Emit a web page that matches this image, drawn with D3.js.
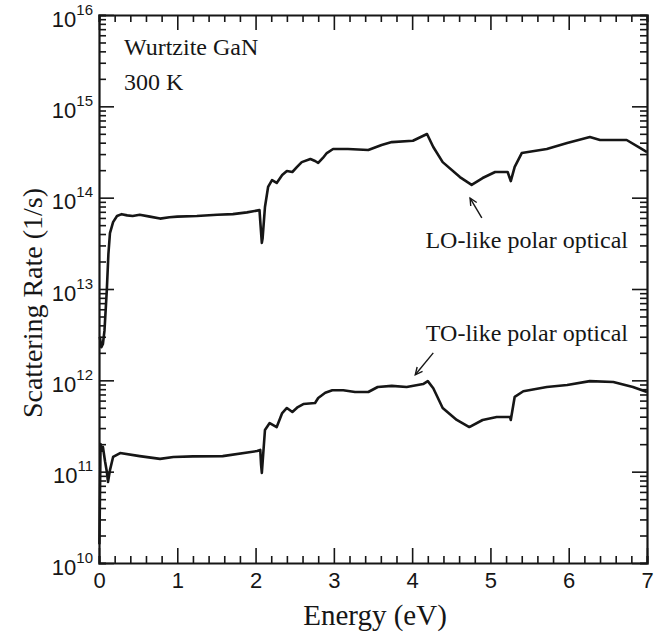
<!DOCTYPE html>
<html>
<head>
  <meta charset="UTF-8">
  <title>Scattering rate</title>
  <script src="https://d3js.org/d3.v7.min.js"></script>
  <style>
    body { margin: 0; background: #fff; }
    svg { font-family: "Liberation Serif", "DejaVu Serif", serif; }
    .curve { fill: none; stroke: #161616; stroke-width: 2.6; stroke-linejoin: round; }
    .axis path, .axis line { stroke: #161616; }
    .axis path { stroke-width: 2.2; }
    .axis line { stroke-width: 1.6; }
  </style>
</head>
<body>
<div class="chart"></div>
<script>
  // LO-like polar optical
  var loEnergy = [0.01, 0.03, 0.05, 0.07, 0.10, 0.12, 0.14, 0.18, 0.23, 0.29, 0.36, 0.43, 0.52, 0.65, 0.78, 0.90,
    1.00, 1.25, 1.51, 1.71, 1.89, 2.05, 2.06, 2.08, 2.09, 2.12, 2.16, 2.21, 2.27, 2.34, 2.40, 2.47, 2.53, 2.59,
    2.70, 2.76, 2.80, 2.86, 2.91, 2.99, 3.18, 3.44, 3.61, 3.74, 4.01, 4.19, 4.27, 4.39, 4.61, 4.76, 4.90, 5.06,
    5.22, 5.26, 5.31, 5.40, 5.72, 5.98, 6.27, 6.40, 6.74, 6.91, 7.00];
  var loRate = [3.0e12, 2.3e12, 2.5e12, 3.5e12, 9.8e12, 2.4e13, 4.1e13, 5.4e13, 6.3e13, 6.6e13, 6.4e13, 6.3e13, 6.5e13,
    6.2e13, 5.9e13, 6.1e13, 6.2e13, 6.3e13, 6.5e13, 6.6e13, 6.9e13, 7.3e13, 5.5e13, 3.2e13, 3.6e13, 7.9e13, 1.31e14,
    1.56e14, 1.45e14, 1.77e14, 1.96e14, 1.91e14, 2.17e14, 2.45e14, 2.65e14, 2.52e14, 2.40e14, 2.72e14, 3.08e14,
    3.41e14, 3.41e14, 3.33e14, 3.78e14, 4.06e14, 4.2e14, 4.98e14, 3.59e14, 2.45e14, 1.68e14, 1.38e14, 1.64e14,
    1.91e14, 1.91e14, 1.52e14, 2.17e14, 3.08e14, 3.41e14, 3.96e14, 4.61e14, 4.28e14, 4.28e14, 3.50e14, 3.16e14];

  // TO-like polar optical
  var toEnergy = [0.005, 0.02, 0.04, 0.05, 0.077, 0.10, 0.115, 0.14, 0.18, 0.27, 0.52, 0.78, 0.95, 1.20, 1.58, 2.02,
    2.06, 2.07, 2.08, 2.12, 2.18, 2.27, 2.34, 2.40, 2.47, 2.54, 2.61, 2.76, 2.80, 2.89, 2.98, 3.12, 3.27, 3.44,
    3.56, 3.74, 3.93, 4.14, 4.20, 4.27, 4.39, 4.57, 4.73, 4.90, 5.08, 5.25, 5.26, 5.31, 5.42, 5.72, 5.98, 6.27,
    6.57, 6.82, 7.00];
  var toRate = [1.6e10, 2.0e11, 1.7e11, 1.86e11, 1.3e11, 1.0e11, 7.7e10, 1.04e11, 1.45e11, 1.60e11, 1.48e11, 1.38e11,
    1.45e11, 1.47e11, 1.48e11, 1.68e11, 1.73e11, 1.2e11, 9.7e10, 2.86e11, 3.41e11, 3.08e11, 4.38e11, 4.98e11,
    4.50e11, 5.1e11, 5.5e11, 5.65e11, 6.4e11, 7.3e11, 7.8e11, 7.8e11, 7.45e11, 7.45e11, 8.45e11, 8.7e11, 8.45e11,
    9.1e11, 9.8e11, 8.2e11, 4.98e11, 3.68e11, 3.08e11, 3.68e11, 3.97e11, 3.97e11, 3.68e11, 6.6e11, 7.6e11,
    8.45e11, 8.9e11, 9.8e11, 9.6e11, 8.45e11, 7.45e11];

  var xTicks = [0, 1, 2, 3, 4, 5, 6, 7];
  var yExponents = [10, 11, 12, 13, 14, 15, 16];

  var margin = { top: 15, right: 19, bottom: 72, left: 99 };
  var width = 666 - margin.left - margin.right;
  var height = 635 - margin.top - margin.bottom;

  var svg = d3.select('.chart')
    .append('svg')
      .attr('width', 666)
      .attr('height', 635)
    .append('g')
      .attr('transform', 'translate(' + margin.left + ',' + margin.top + ')');

  var xScale = d3.scaleLinear().domain([0, 7]).range([0, width]);
  var yScale = d3.scaleLog().domain([1e10, 1e16]).range([height, 0]);

  // minor tick values
  var xMinor = d3.range(0, 7.001, 0.2).filter(v => Math.abs(v - Math.round(v)) > 0.01);
  var yMinor = [];
  yExponents.slice(0, -1).forEach(function (e) {
    for (var m = 2; m <= 9; m++) yMinor.push(m * Math.pow(10, e));
  });
  var yMajor = yExponents.map(e => Math.pow(10, e));

  // X axes (ticks inward)
  svg.append('g').attr('class', 'axis').attr('transform', `translate(0, ${height})`)
    .call(d3.axisBottom(xScale).tickValues(xMinor).tickSize(-7).tickFormat(''));
  var xb = svg.append('g').attr('class', 'axis').attr('transform', `translate(0, ${height})`)
    .call(d3.axisBottom(xScale).tickValues(xTicks).tickSize(-15).tickPadding(0).tickFormat(d3.format('d')));
  xb.selectAll('text').attr('y', 25).attr('dy', 0).attr('fill', '#161616').style('font-size', '22px');
  xb.select('.domain').remove();

  svg.append('g').attr('class', 'axis')
    .call(d3.axisTop(xScale).tickValues(xMinor).tickSize(-7).tickFormat(''));
  var xt = svg.append('g').attr('class', 'axis')
    .call(d3.axisTop(xScale).tickValues(xTicks).tickSize(-15).tickFormat(''));
  xt.select('.domain').remove();

  // Y axes
  svg.append('g').attr('class', 'axis')
    .call(d3.axisLeft(yScale).tickValues(yMinor).tickSize(-7).tickFormat(''));
  var yl = svg.append('g').attr('class', 'axis')
    .call(d3.axisLeft(yScale).tickValues(yMajor).tickSize(-15).tickFormat(''));
  yl.select('.domain').remove();
  var lab = yl.selectAll('.tick').append('text')
    .attr('x', -6).attr('y', 11)
    .attr('text-anchor', 'end')
    .attr('fill', '#161616')
    .style('font-size', '22px');
  lab.append('tspan').text('10');
  lab.append('tspan').attr('dy', -12).style('font-size', '15px')
    .text(d => Math.round(Math.log10(d)));

  svg.append('g').attr('class', 'axis').attr('transform', `translate(${width}, 0)`)
    .call(d3.axisRight(yScale).tickValues(yMinor).tickSize(-7).tickFormat(''));
  var yr = svg.append('g').attr('class', 'axis').attr('transform', `translate(${width}, 0)`)
    .call(d3.axisRight(yScale).tickValues(yMajor).tickSize(-15).tickFormat(''));
  yr.select('.domain').remove();

  // curves
  var line = d3.line()
    .x(d => xScale(d[0]))
    .y(d => yScale(d[1]));

  svg.append('path').attr('class', 'curve')
    .datum(d3.zip(loEnergy, loRate))
    .attr('d', line);
  svg.append('path').attr('class', 'curve')
    .datum(d3.zip(toEnergy, toRate))
    .attr('d', line);

  // axis titles
  svg.append('text')
    .attr('x', width / 2 + 2).attr('y', height + 62)
    .attr('text-anchor', 'middle')
    .attr('fill', '#161616')
    .style('font-size', '29px')
    .text('Energy (eV)');

  svg.append('text')
    .attr('transform', `translate(${-57}, ${height / 2 + 14}) rotate(-90)`)
    .attr('text-anchor', 'middle')
    .attr('fill', '#161616')
    .style('font-size', '28px')
    .text('Scattering Rate (1/s)');

  // labels
  svg.append('text').attr('x', 25).attr('y', 40)
    .attr('fill', '#161616').style('font-size', '24px')
    .text('Wurtzite GaN');
  svg.append('text').attr('x', 25).attr('y', 75)
    .attr('fill', '#161616').style('font-size', '24px')
    .text('300 K');

  svg.append('text').attr('x', width - 19).attr('y', 233)
    .attr('text-anchor', 'end')
    .attr('fill', '#161616').style('font-size', '24px')
    .text('LO-like polar optical');
  svg.append('text').attr('x', width - 19).attr('y', 326)
    .attr('text-anchor', 'end')
    .attr('fill', '#161616').style('font-size', '24px')
    .text('TO-like polar optical');

  // annotation arrows
  function arrow(x1, y1, x2, y2) {
    var g = svg.append('g').attr('stroke', '#161616').attr('stroke-width', 1.4).attr('fill', 'none');
    g.append('line').attr('x1', x1).attr('y1', y1).attr('x2', x2).attr('y2', y2);
    var a = Math.atan2(y2 - y1, x2 - x1), L = 8, s = 0.45;
    g.append('path').attr('d', 'M' + (x2 - L * Math.cos(a - s)) + ',' + (y2 - L * Math.sin(a - s)) +
      'L' + x2 + ',' + y2 + 'L' + (x2 - L * Math.cos(a + s)) + ',' + (y2 - L * Math.sin(a + s)));
  }
  arrow(xScale(4.89), yScale(6.0e13), xScale(4.74), yScale(9.9e13));
  arrow(xScale(4.27), yScale(2.0e12), xScale(4.04), yScale(1.15e12));
</script>
</body>
</html>
